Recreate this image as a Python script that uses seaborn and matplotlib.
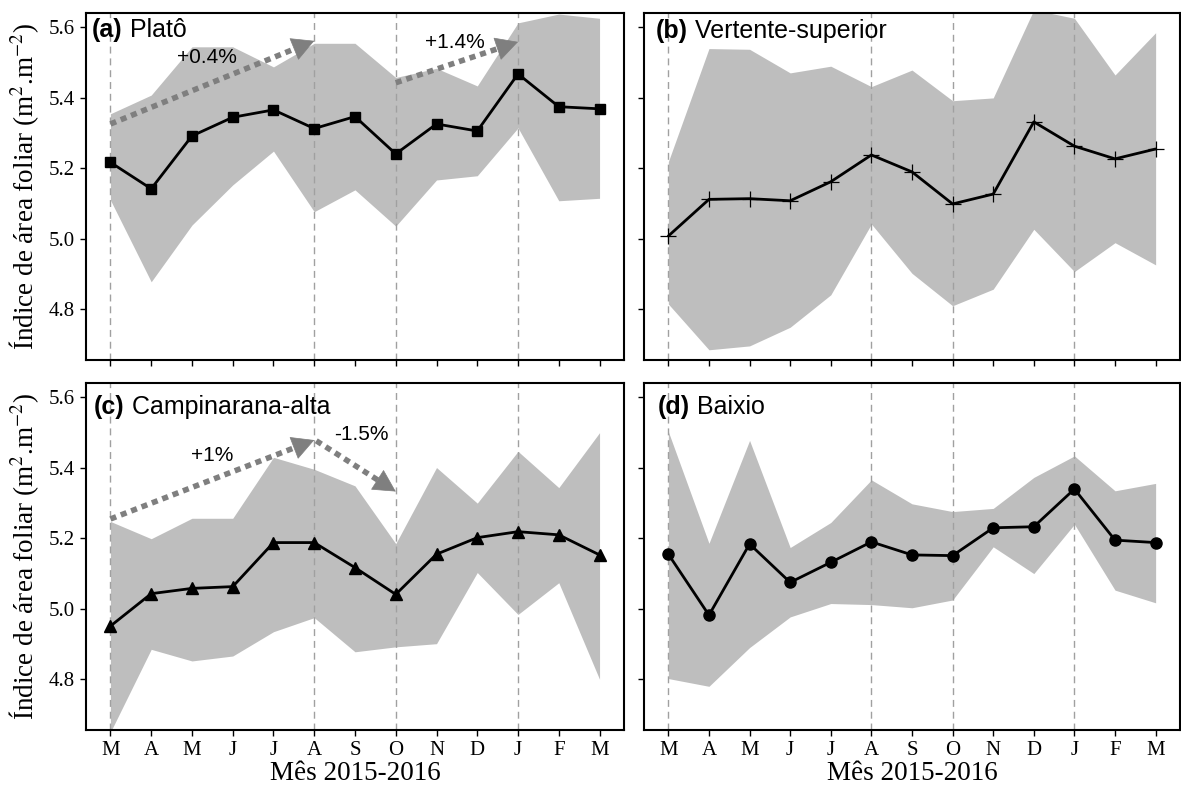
import numpy as np
import matplotlib
matplotlib.use("Agg")
import matplotlib.pyplot as plt
import seaborn as sns

# months March 2015 - March 2016
months = ["M", "A", "M", "J", "J", "A", "S", "O", "N", "D", "J", "F", "M"]
idx = list(range(len(months)))
dashed_months = [0, 5, 7, 10]

# (a) Platô
plato_mean = [5.217, 5.142, 5.292, 5.345, 5.366, 5.313, 5.347, 5.241, 5.326, 5.306, 5.468, 5.375, 5.369]
plato_up = [5.355, 5.408, 5.545, 5.545, 5.488, 5.555, 5.555, 5.458, 5.484, 5.434, 5.613, 5.638, 5.626]
plato_low = [5.110, 4.878, 5.039, 5.153, 5.249, 5.077, 5.139, 5.036, 5.167, 5.179, 5.315, 5.108, 5.115]

# (b) Vertente-superior
vert_mean = [5.008, 5.112, 5.114, 5.108, 5.162, 5.238, 5.190, 5.099, 5.127, 5.332, 5.263, 5.227, 5.255]
vert_up = [5.219, 5.540, 5.538, 5.471, 5.490, 5.432, 5.479, 5.392, 5.400, 5.650, 5.626, 5.465, 5.585]
vert_low = [4.815, 4.685, 4.696, 4.749, 4.841, 5.042, 4.902, 4.810, 4.857, 5.027, 4.907, 4.989, 4.926]

# (c) Campinarana-alta
camp_mean = [4.951, 5.043, 5.058, 5.063, 5.188, 5.188, 5.117, 5.041, 5.155, 5.202, 5.219, 5.210, 5.153]
camp_up = [5.248, 5.199, 5.257, 5.257, 5.430, 5.396, 5.349, 5.185, 5.401, 5.300, 5.447, 5.344, 5.500]
camp_low = [4.650, 4.885, 4.852, 4.866, 4.935, 4.975, 4.878, 4.892, 4.901, 5.103, 4.984, 5.074, 4.800]

# (d) Baixio
baix_mean = [5.155, 4.982, 5.184, 5.075, 5.132, 5.190, 5.153, 5.151, 5.230, 5.233, 5.340, 5.195, 5.188]
baix_up = [5.503, 5.186, 5.478, 5.174, 5.245, 5.366, 5.298, 5.276, 5.285, 5.373, 5.434, 5.335, 5.356]
baix_low = [4.802, 4.780, 4.890, 4.977, 5.015, 5.012, 5.003, 5.025, 5.176, 5.100, 5.240, 5.053, 5.017]

# trend arrows: (x0, y0, x1, y1) and their labels (x, y, text)
plato_arrows = [(0, 5.326, 5, 5.562), (7, 5.443, 10, 5.559)]
plato_notes = [(2.37, 5.515, "+0.4%"), (8.44, 5.556, "+1.4%")]
camp_arrows = [(0, 5.255, 5, 5.479), (5.05, 5.477, 7, 5.333)]
camp_notes = [(2.5, 5.436, "+1%"), (6.16, 5.494, "-1.5%")]

sns.set_style("ticks")
plt.rcParams["font.family"] = ["Liberation Serif", "DejaVu Serif"]
plt.rcParams["mathtext.fontset"] = "stix"
plt.rcParams["text.color"] = "black"
plt.rcParams["axes.labelcolor"] = "black"

fig = plt.figure(figsize=(11.81, 7.85), dpi=100)
W, H = 1181, 785


def box(l, r, t, b):
    return [l / W, 1 - b / H, (r - l) / W, (b - t) / H]


panels = [
    ("(a)", " Platô", plato_mean, plato_up, plato_low, "s", 7.5, box(86, 624, 13, 360), (0.011, 0.952)),
    ("(b)", " Vertente-superior", vert_mean, vert_up, vert_low, "+", 12, box(644, 1180, 13, 360), (0.022, 0.947)),
    ("(c)", " Campinarana-alta", camp_mean, camp_up, camp_low, "^", 8.5, box(86, 624, 383, 730), (0.015, 0.932)),
    ("(d)", " Baixio", baix_mean, baix_up, baix_low, "o", 8, box(644, 1180, 383, 730), (0.026, 0.93)),
]

axes = []
for k, (tag, name, mean, up, low, mk, ms, pos, tpos) in enumerate(panels):
    ax = fig.add_axes(pos)
    axes.append(ax)
    ax.set_xlim(-0.6, 12.6)
    ax.set_ylim(4.656, 5.641)
    ax.fill_between(idx, low, up, color="#bebebe", lw=0, zorder=1)
    for m in dashed_months:
        ax.axvline(m, color="#a0a0a0", lw=1, ls=(0, (5, 3.5)), zorder=2)
    mew = 0.9 if mk == "+" else 1
    sns.lineplot(x=idx, y=mean, ax=ax, color="black", lw=2, marker=mk, markersize=ms,
                 markeredgecolor="black", markerfacecolor="black", markeredgewidth=mew, zorder=3)
    ax.set_xticks(idx)
    ax.set_yticks([4.8, 5.0, 5.2, 5.4, 5.6])
    ax.tick_params(direction="out", length=4, width=1, colors="black", labelsize=15, pad=4)
    for s in ax.spines.values():
        s.set_linewidth(1.5)
        s.set_color("black")
    if k % 2 == 0:
        ax.set_yticklabels(["4.8", "5.0", "5.2", "5.4", "5.6"])
        ax.set_ylabel(r"Índice de área foliar (m$^{2}$.m$^{-2}$)", fontsize=19.5)
        ax.yaxis.set_label_coords(-0.083, 0.5)
    else:
        ax.set_yticklabels([])
        ax.set_ylabel("")
    if k >= 2:
        ax.set_xticklabels(months)
        ax.set_xlabel("Mês 2015-2016", fontsize=19.5, labelpad=1)
    else:
        ax.set_xticklabels([])
        ax.set_xlabel("")
    t = ax.text(tpos[0], tpos[1], tag, transform=ax.transAxes, fontsize=18, weight="bold",
                family="Liberation Sans", va="center", ha="left", zorder=5)
    ax.annotate(name, xy=(1, 0.5), xycoords=t, fontsize=18, family="Liberation Sans",
                va="center", ha="left", zorder=5)


def trend_arrow(ax, x0, y0, x1, y1, col="#7f7f7f"):
    ms = 25
    head = 0.6 * ms * 100 / 72
    p0 = ax.transData.transform((x0, y0))
    p1 = ax.transData.transform((x1, y1))
    d = (p1 - p0) / np.hypot(*(p1 - p0))
    xb, yb = ax.transData.inverted().transform(p1 - d * head * 0.9)
    ax.plot([x0, xb], [y0, yb], color=col, lw=4, ls=(0, (1.1, 0.9)),
            dash_capstyle="butt", zorder=4)
    ax.annotate("", xy=(x1, y1), xytext=(xb, yb),
                arrowprops=dict(arrowstyle="-|>,head_length=0.6,head_width=0.32", color=col,
                                lw=0.5, shrinkA=0, shrinkB=0, mutation_scale=ms), zorder=4)


for ax, arrows, notes in [(axes[0], plato_arrows, plato_notes), (axes[2], camp_arrows, camp_notes)]:
    for a in arrows:
        trend_arrow(ax, *a)
    for x, y, s in notes:
        ax.text(x, y, s, fontsize=15, family="Liberation Sans", ha="center", va="center",
                color="black", zorder=5)

fig.savefig("out.png", dpi=100)
